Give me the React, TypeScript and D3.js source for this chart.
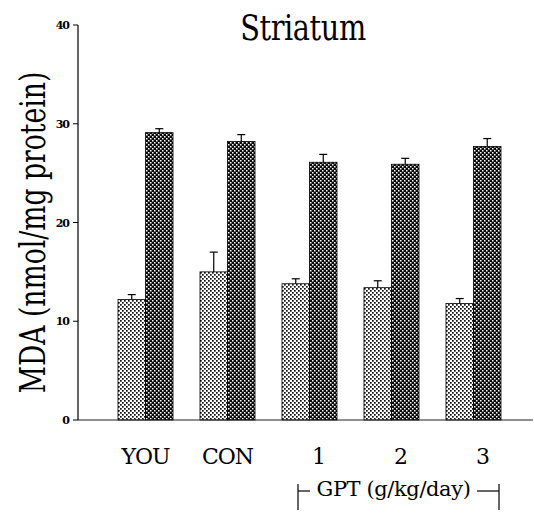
import React from "react";
import * as d3 from "d3";

const categories = ["YOU", "CON", "1", "2", "3"];
const seriesKeys = ["control", "treated"];
const lightValues = [12.2, 15.0, 13.8, 13.4, 11.8];
const lightErrors = [0.5, 2.0, 0.5, 0.7, 0.5];
const darkValues = [29.1, 28.2, 26.1, 25.9, 27.7];
const darkErrors = [0.4, 0.7, 0.8, 0.6, 0.8];
const yTicks = [0, 10, 20, 30, 40];
const title = "Striatum";
const yLabel = "MDA (nmol/mg protein)";
const groupLabel = "GPT (g/kg/day)";

const W = 534;
const H = 513;
const FONT = '"DejaVu Serif", serif';
const ts = { fontFamily: FONT };

export default function App() {
  const y = d3.scaleLinear().domain([0, 40]).range([420, 25]);
  const x = d3
    .scaleBand<string>()
    .domain(categories)
    .range([77, 542])
    .paddingInner(0.329)
    .paddingOuter(0.5);
  const xs = d3.scaleBand<string>().domain(seriesKeys).range([0, x.bandwidth()]);

  const series = [
    { key: "control", values: lightValues, errors: lightErrors, fill: "url(#lightPat)" },
    { key: "treated", values: darkValues, errors: darkErrors, fill: "url(#darkPat)" },
  ];

  const gptCats = categories.slice(2);
  const gx0 = 298;
  const gx1 = 499;

  return (
    <svg
      width={W}
      height={H}
      style={{ position: "absolute", left: 0, top: 0, background: "#fff", fontFamily: FONT }}
    >
      <defs>
        <pattern id="lightPat" width="4" height="4" patternUnits="userSpaceOnUse">
          <rect width="4" height="4" fill="#fff" />
          <rect x="0" y="0" width="1.7" height="1.7" fill="#111" />
          <rect x="2" y="2" width="1.7" height="1.7" fill="#111" />
        </pattern>
        <pattern id="darkPat" width="4" height="4" patternUnits="userSpaceOnUse">
          <rect width="4" height="4" fill="#0a0a0a" />
          <rect x="0" y="0" width="1.5" height="1.5" fill="#fff" />
          <rect x="2" y="2" width="1.5" height="1.5" fill="#fff" />
        </pattern>
      </defs>

      <text
        transform="translate(303,40) scale(0.8,1)"
        textAnchor="middle"
        fontSize={36}
        letterSpacing={-0.5}
        fill="#000"
        style={ts}
      >
        {title}
      </text>

      <text
        transform={`translate(45, ${y(20) + 10}) rotate(-90) scale(0.74,1)`}
        textAnchor="middle"
        fontSize={36}
        fill="#000"
        style={ts}
      >
        {yLabel}
      </text>

      <line x1={78} x2={78} y1={y(40)} y2={y(0)} stroke="#000" strokeWidth={1.2} />
      {yTicks.map((t) => (
        <g key={t}>
          <line x1={73} x2={78} y1={y(t)} y2={y(t)} stroke="#000" strokeWidth={1} />
          <text x={69} y={y(t) + 4} textAnchor="end" fontSize={11} fontWeight="bold" letterSpacing={-1} fill="#000" style={ts}>
            {t}
          </text>
        </g>
      ))}

      {series.map((s) =>
        categories.map((c, i) => {
          const bx = (x(c) ?? 0) + (xs(s.key) ?? 0);
          const bw = xs.bandwidth();
          const top = y(s.values[i]);
          const cx = bx + bw / 2;
          const et = y(s.values[i] + s.errors[i]);
          return (
            <g key={s.key + c}>
              <rect x={bx} y={top} width={bw} height={y(0) - top} fill={s.fill} stroke="#000" strokeWidth={0.8} />
              <line x1={cx} x2={cx} y1={top} y2={et} stroke="#000" strokeWidth={1.2} />
              <line x1={cx - 4} x2={cx + 4} y1={et} y2={et} stroke="#000" strokeWidth={1.2} />
            </g>
          );
        })
      )}

      <line x1={78} x2={533} y1={y(0)} y2={y(0)} stroke="#222" strokeWidth={1.2} />

      {categories.map((c) => (
        <text
          key={c}
          x={(x(c) ?? 0) + x.bandwidth() / 2 + (gptCats.includes(c) ? 9 : 0)}
          y={464}
          textAnchor="middle"
          fontSize={22}
          letterSpacing={-1}
          fill="#000"
          style={ts}
        >
          {c}
        </text>
      ))}

      <line x1={gx0} x2={gx0} y1={484} y2={510} stroke="#000" strokeWidth={1.2} />
      <line x1={gx1} x2={gx1} y1={484} y2={510} stroke="#000" strokeWidth={1.2} />
      <line x1={gx0} x2={310} y1={491} y2={491} stroke="#000" strokeWidth={1.2} />
      <line x1={477} x2={gx1} y1={491} y2={491} stroke="#000" strokeWidth={1.2} />
      <text x={(gx0 + gx1) / 2 - 5} y={496} textAnchor="middle" fontSize={21} letterSpacing={-0.4} fill="#000" style={ts}>
        {groupLabel}
      </text>
    </svg>
  );
}
